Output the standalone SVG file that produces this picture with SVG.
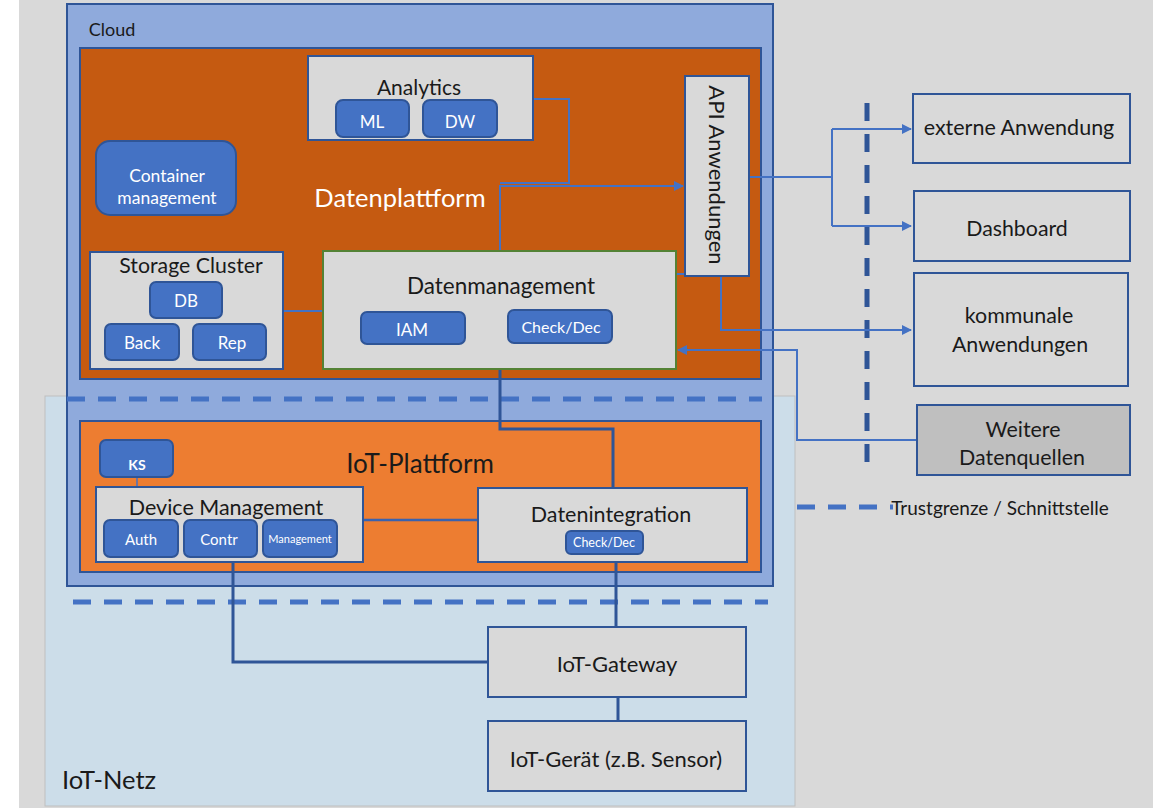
<svg xmlns="http://www.w3.org/2000/svg" width="1153" height="808" viewBox="0 0 1153 808">
<style>
text{font-family:Lato,"Open Sans","Liberation Sans",sans-serif;fill:#1a1a1a;text-anchor:middle;dominant-baseline:central}
.box{fill:#d9d9d9;stroke:#2f5597;stroke-width:2}
.pill{fill:#4472c4;stroke:#2f5597;stroke-width:2}
.wt{fill:#fff}
.thin{fill:none;stroke:#4472c4;stroke-width:2}
.thick{fill:none;stroke:#2f5597;stroke-width:3}
.dash{fill:none;stroke:#4472c4;stroke-width:5;stroke-dasharray:18 13}
</style>
<defs>
<marker id="arr" viewBox="0 0 10 10" refX="9" refY="5" markerWidth="5" markerHeight="5" orient="auto" markerUnits="strokeWidth"><path d="M0,0 L10,5 L0,10 z" fill="#4472c4"/></marker>
</defs>
<rect x="0" y="0" width="1153" height="808" fill="#ffffff"/>
<rect x="19" y="0" width="1134" height="808" fill="#d9d9d9"/>
<g id="iot-netz">
<rect x="45" y="396" width="750" height="410" fill="#ccdde9" stroke="#bfbfbf" stroke-width="1"/>
<text x="109" y="779" font-size="25.5">IoT-Netz</text>
</g>
<g id="cloud">
<rect x="67" y="4" width="706" height="582" fill="#8faadc" stroke="#2f5597" stroke-width="2"/>
<text x="112" y="29" font-size="18">Cloud</text>
</g>
<g id="datenplattform">
<rect x="80" y="48" width="681" height="331" fill="#c55a11" stroke="#2f5597" stroke-width="2"/>
<text x="400" y="197" font-size="25.5" class="wt">Datenplattform</text>
</g>
<g id="iot-plattform">
<rect x="80" y="421" width="681" height="151" fill="#ed7d31" stroke="#2f5597" stroke-width="2"/>
<text x="420" y="463" font-size="26">IoT-Plattform</text>
</g>
<g id="trust">
<line x1="67" y1="399" x2="762" y2="399" class="dash"/>
<line x1="73" y1="602" x2="768" y2="602" class="dash"/>
<line x1="867" y1="103" x2="867" y2="465" fill="none" stroke="#2f5597" stroke-width="5" stroke-dasharray="18 13"/>
<line x1="797" y1="507" x2="893" y2="507" class="dash"/>
<text x="1000" y="507" font-size="19">Trustgrenze / Schnittstelle</text>
</g>
<g id="connectors">
<polyline points="533,99 569,99 569,183 500,183" class="thin"/>
<polyline points="500,251 500,186 683,186" class="thin" marker-end="url(#arr)"/>
<line x1="676" y1="274" x2="685" y2="274" class="thin"/>
<line x1="740" y1="270" x2="750" y2="270" stroke="#404040" stroke-width="1"/>
<polyline points="749,177 832,177" class="thin"/>
<polyline points="832,129 832,226" class="thin"/>
<line x1="832" y1="129" x2="911" y2="129" class="thin" marker-end="url(#arr)"/>
<line x1="832" y1="226" x2="911" y2="226" class="thin" marker-end="url(#arr)"/>
<polyline points="721,276 721,330 911,330" class="thin" marker-end="url(#arr)"/>
<polyline points="917,440 797,440 797,350 678,350" class="thin" marker-end="url(#arr)"/>
<line x1="283" y1="311" x2="323" y2="311" class="thin"/>
<polyline points="500,369 500,429 613,429 613,488" class="thick"/>
<line x1="616" y1="562" x2="616" y2="627" class="thick"/>
<line x1="363" y1="520" x2="478" y2="520" class="thick" style="stroke:#3a62ae;stroke-width:2.5"/>
<polyline points="233,557 233,662 488,662" class="thick"/>
<line x1="618" y1="697" x2="618" y2="721" class="thick"/>
<line x1="137" y1="477" x2="137" y2="487" stroke="#4472c4" stroke-width="1.5"/>
</g>
<g id="analytics">
<rect x="308" y="56" width="225" height="84" class="box"/>
<text x="419" y="86" font-size="21">Analytics</text>
</g>
<g id="ml"><rect x="336" y="100" width="73" height="37" rx="7" class="pill"/><text x="372" y="121" font-size="17" class="wt">ML</text></g>
<g id="dw"><rect x="423" y="100" width="74" height="37" rx="7" class="pill"/><text x="460" y="121" font-size="17" class="wt">DW</text></g>
<g id="api">
<rect x="685" y="76" width="64" height="200" class="box"/>
<text x="0" y="0" font-size="22" transform="translate(717,175) rotate(90)">API Anwendungen</text>
</g>
<g id="container-management">
<rect x="96" y="141" width="140" height="74" rx="14" class="pill"/>
<text x="167" y="175" font-size="17.5" class="wt">Container</text>
<text x="167" y="197" font-size="17.5" class="wt">management</text>
</g>
<g id="storage-cluster">
<rect x="90" y="252" width="193" height="117" class="box"/>
<text x="191" y="265" font-size="21.3">Storage Cluster</text>
</g>
<g id="db"><rect x="150" y="282" width="72" height="36" rx="6" class="pill"/><text x="186" y="300" font-size="17" class="wt">DB</text></g>
<g id="back"><rect x="105" y="324" width="74" height="36" rx="6" class="pill"/><text x="142" y="342" font-size="17" class="wt">Back</text></g>
<g id="rep"><rect x="193" y="324" width="73" height="36" rx="6" class="pill"/><text x="232" y="342" font-size="17" class="wt">Rep</text></g>
<g id="datenmanagement">
<rect x="323" y="251" width="353" height="118" fill="#d9d9d9" stroke="#548235" stroke-width="2"/>
<text x="501" y="285" font-size="22.5">Datenmanagement</text>
</g>
<g id="iam"><rect x="361" y="312" width="104" height="32" rx="6" class="pill"/><text x="412" y="329" font-size="17" class="wt">IAM</text></g>
<g id="checkdec1"><rect x="508" y="310" width="104" height="33" rx="6" class="pill"/><text x="561" y="326" font-size="16" class="wt">Check/Dec</text></g>
<g id="externe-anwendung">
<rect x="913" y="94" width="217" height="69" class="box"/>
<text x="1019" y="127" font-size="21.5">externe Anwendung</text>
</g>
<g id="dashboard">
<rect x="914" y="191" width="216" height="70" class="box"/>
<text x="1017" y="228" font-size="21.3">Dashboard</text>
</g>
<g id="kommunale-anwendungen">
<rect x="914" y="273" width="214" height="113" class="box"/>
<text x="1019" y="315" font-size="21.4">kommunale</text>
<text x="1020" y="344" font-size="21.4">Anwendungen</text>
</g>
<g id="weitere-datenquellen">
<rect x="917" y="405" width="213" height="70" class="box" style="fill:#bfbfbf"/>
<text x="1023" y="429" font-size="21.4">Weitere</text>
<text x="1022" y="457" font-size="21.4">Datenquellen</text>
</g>
<g id="ks"><rect x="100" y="440" width="73" height="37" rx="6" class="pill"/><text x="137" y="464" font-size="14" font-weight="bold" class="wt">KS</text></g>
<g id="device-management">
<rect x="96" y="487" width="267" height="75" class="box"/>
<text x="226" y="507" font-size="21.5">Device Management</text>
</g>
<g id="auth"><rect x="104" y="520" width="74" height="37" rx="6" class="pill"/><text x="141" y="539" font-size="15" class="wt">Auth</text></g>
<g id="contr"><rect x="184" y="520" width="73" height="37" rx="6" class="pill"/><text x="219" y="539" font-size="15" class="wt">Contr</text></g>
<g id="management"><rect x="263" y="520" width="74" height="37" rx="6" class="pill"/><text x="300" y="538" font-size="11" class="wt">Management</text></g>
<g id="datenintegration">
<rect x="478" y="488" width="269" height="74" class="box"/>
<text x="611" y="514" font-size="21.5">Datenintegration</text>
</g>
<g id="checkdec2"><rect x="566" y="531" width="77" height="23" rx="5" class="pill"/><text x="604" y="542" font-size="12.5" class="wt">Check/Dec</text></g>
<g id="iot-gateway">
<rect x="488" y="627" width="258" height="70" class="box"/>
<text x="617" y="663" font-size="22">IoT-Gateway</text>
</g>
<g id="iot-geraet">
<rect x="488" y="721" width="258" height="70" class="box"/>
<text x="616" y="758" font-size="22">IoT-Gerät (z.B. Sensor)</text>
</g>
</svg>
